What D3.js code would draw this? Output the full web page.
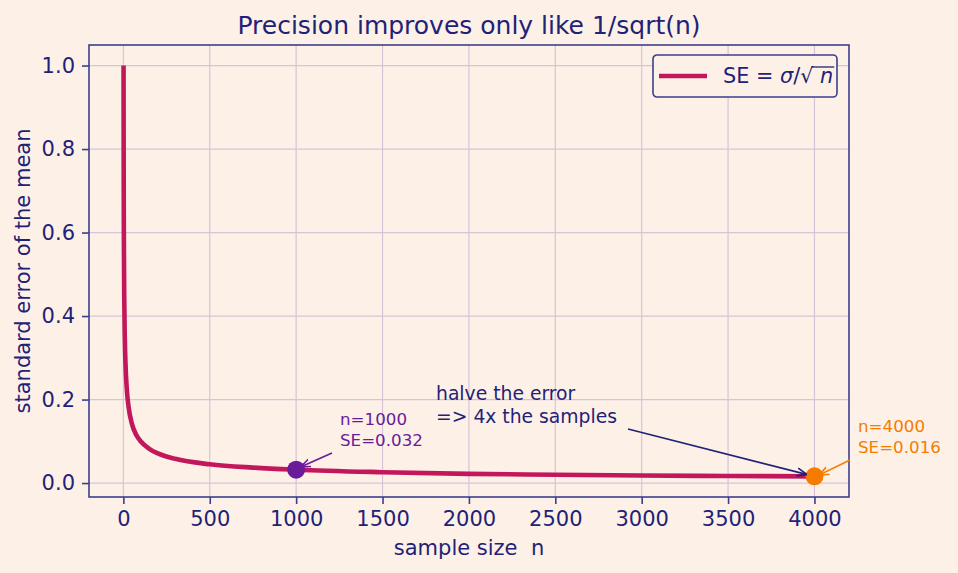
<!DOCTYPE html>
<html>
<head>
<meta charset="utf-8">
<script src="https://cdn.jsdelivr.net/npm/d3@7"></script>
<style>
body{margin:0;background:#fdf1e7;}
text{font-family:"DejaVu Sans",sans-serif;}
</style>
</head>
<body>
<div id="chart"></div>
<script>
// values
var nVals = [1, 2, 3, 5, 8, 12, 20, 30, 50, 75, 100, 150, 200, 300, 500, 750, 1000, 1500, 2000, 2500, 3000, 3500, 4000]
var seVals = [1.0, 0.707, 0.577, 0.447, 0.354, 0.289, 0.224, 0.183, 0.141, 0.115, 0.100, 0.082, 0.071, 0.058, 0.045, 0.037, 0.032, 0.026, 0.022, 0.020, 0.018, 0.017, 0.016]
var xTicks = [0, 500, 1000, 1500, 2000, 2500, 3000, 3500, 4000]
var yTicks = [0.0, 0.2, 0.4, 0.6, 0.8, 1.0]
var marks = [{n:1000, se:0.032, color:"#6a1b9a"}, {n:4000, se:0.016, color:"#f57c00"}]

var navy = "#1f2277", axisCol = "#3b3f8c", gridCol = "#d6c3d8", lineCol = "#c2185b"
var W = 958, H = 573
var margin = {top: 45, right: 109, bottom: 76, left: 89},
    width = W - margin.left - margin.right,
    height = H - margin.top - margin.bottom;

var svg = d3.select("#chart").append("svg")
    .attr("width", W).attr("height", H)
    .style("background", "#fdf1e7")
var g = svg.append("g").attr("transform", "translate(" + margin.left + "," + margin.top + ")")

var x = d3.scaleLinear().domain([-198.95, 4199.95]).range([0, width])
var y = d3.scaleLinear().domain([-0.0334, 1.0492]).range([height, 0])

// grid
g.selectAll(".gx").data(xTicks).enter().append("line")
    .attr("x1", d => x(d)).attr("x2", d => x(d)).attr("y1", 0).attr("y2", height)
    .attr("stroke", gridCol).attr("stroke-width", 1.2)
g.selectAll(".gy").data(yTicks).enter().append("line")
    .attr("y1", d => y(d)).attr("y2", d => y(d)).attr("x1", 0).attr("x2", width)
    .attr("stroke", gridCol).attr("stroke-width", 1.2)

// axes
var xAxis = g.append("g").attr("transform", "translate(0," + height + ")")
    .call(d3.axisBottom(x).tickValues(xTicks).tickFormat(d3.format("d")).tickSize(7).tickPadding(7))
var yAxis = g.append("g")
    .call(d3.axisLeft(y).tickValues(yTicks).tickFormat(d3.format(".1f")).tickSize(7).tickPadding(7))
;[xAxis, yAxis].forEach(function(a){
    a.select(".domain").remove()
    a.selectAll("line").attr("stroke", axisCol).attr("stroke-width", 1.6)
    a.selectAll("text").attr("fill", navy).style("font-size", "21px").style("font-family", "DejaVu Sans")
})
g.append("rect").attr("width", width).attr("height", height)
    .attr("fill", "none").attr("stroke", axisCol).attr("stroke-width", 1.6)

// the curve
g.append("path")
    .datum(nVals.map((n, i) => ({n: n, se: seVals[i]})))
    .attr("fill", "none").attr("stroke", lineCol).attr("stroke-width", 4.6)
    .attr("d", d3.line().curve(d3.curveMonotoneX).x(d => x(d.n)).y(d => y(d.se)))

// markers
g.selectAll(".pt").data(marks).enter().append("circle")
    .attr("cx", d => x(d.n)).attr("cy", d => y(d.se)).attr("r", 9)
    .attr("fill", d => d.color)

// arrowheads
var defs = svg.append("defs")
function arrow(id, col){
    defs.append("marker").attr("id", id).attr("viewBox", "0 0 10 10").attr("refX", 9.5).attr("refY", 5)
        .attr("markerWidth", 10).attr("markerHeight", 10).attr("markerUnits", "userSpaceOnUse").attr("orient", "auto")
        .append("path").attr("d", "M0,1 L10,5 L0,9").attr("fill", "none").attr("stroke", col).attr("stroke-width", 1.6)
}
arrow("a1", marks[0].color); arrow("a2", navy); arrow("a3", marks[1].color)

function annot(lines, tx, ty, ax1, ay1, ax2, ay2, col, id, fs){
    var t = svg.append("text").attr("x", tx).attr("y", ty).attr("fill", col).style("font-size", fs + "px")
    lines.forEach(function(l, i){
        t.append("tspan").attr("x", tx).attr("dy", i == 0 ? 0 : fs * 1.23).text(l)
    })
    svg.append("line").attr("x1", ax1).attr("y1", ay1).attr("x2", ax2).attr("y2", ay2)
        .attr("stroke", col).attr("stroke-width", 1.6).attr("marker-end", "url(#" + id + ")")
}
var p1x = margin.left + x(1000), p1y = margin.top + y(0.032)
var p2x = margin.left + x(4000), p2y = margin.top + y(0.016)
annot(["n=1000", "SE=0.032"], 340, 425, 332, 453, p1x + 5, p1y - 3, marks[0].color, "a1", 16.7)
annot(["halve the error", "=> 4x the samples"], 436, 400, 628, 429, p2x - 8, p2y - 2, navy, "a2", 18.75)
annot(["n=4000", "SE=0.016"], 858, 432, 850, 460, p2x + 5, p2y - 1.5, marks[1].color, "a3", 16.7)

// title and labels
svg.append("text").attr("x", margin.left + width / 2).attr("y", 33.5).attr("text-anchor", "middle")
    .attr("fill", navy).style("font-size", "25px").text("Precision improves only like 1/sqrt(n)")
svg.append("text").attr("x", margin.left + width / 2).attr("y", 555).attr("text-anchor", "middle")
    .attr("fill", navy).style("font-size", "21px").style("white-space", "pre").text("sample size  n")
svg.append("text").attr("transform", "translate(30," + (margin.top + height / 2) + ") rotate(-90)")
    .attr("text-anchor", "middle").attr("fill", navy).style("font-size", "21px").text("standard error of the mean")

// legend
var lg = svg.append("g").attr("transform", "translate(653,55)")
lg.append("rect").attr("width", 184).attr("height", 42).attr("rx", 4)
    .attr("fill", "#fdf1e7").attr("stroke", axisCol).attr("stroke-width", 1.6)
lg.append("line").attr("x1", 6).attr("x2", 54).attr("y1", 21).attr("y2", 21)
    .attr("stroke", lineCol).attr("stroke-width", 4.6)
var lt = lg.append("text").attr("x", 70).attr("y", 28).attr("fill", navy).style("font-size", "20.8px")
lt.append("tspan").text("SE = ")
lt.append("tspan").style("font-style", "italic").text("σ")
lt.append("tspan").text("/√")
var nSpan = lt.append("tspan").style("font-style", "italic").text(" n")
var before = lt.node().getSubStringLength(0, 8)
var total = lt.node().getComputedTextLength()
lg.append("line").attr("x1", 70 + before - 2).attr("x2", 70 + total + 1).attr("y1", 12).attr("y2", 12)
    .attr("stroke", navy).attr("stroke-width", 1.3)
</script>
</body>
</html>
